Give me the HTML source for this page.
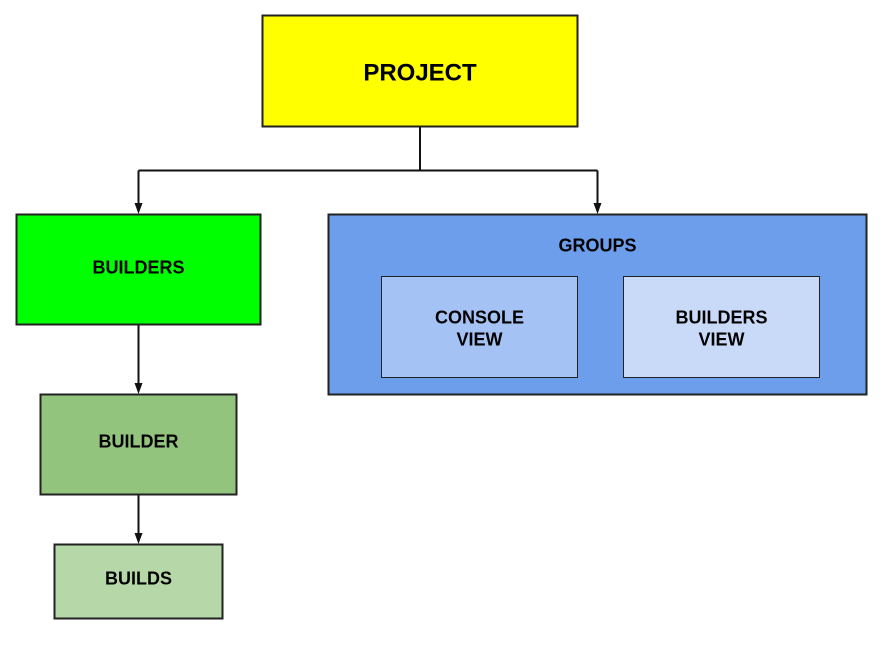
<!DOCTYPE html>
<html><head><meta charset="utf-8"><style>
html,body{margin:0;padding:0;background:#fff;}
svg{display:block;}
text{font-family:"Liberation Sans",Arial,sans-serif;font-weight:bold;fill:#000;text-anchor:middle;}
</style></head><body>
<svg width="890" height="647" viewBox="0 0 890 647" xmlns="http://www.w3.org/2000/svg">
<defs>
<marker id="ah" markerWidth="8" markerHeight="12" refX="4" refY="11" orient="auto-start-reverse" markerUnits="userSpaceOnUse" viewBox="0 0 8 12">
</marker>
</defs>
<!-- connectors -->
<g stroke="#111" stroke-width="2" fill="none">
<path d="M420 126 V170.5 M138.5 170.5 H597.5 M138.5 170.5 V204 M597.5 170.5 V204"/>
<path d="M138.5 324 V384"/>
<path d="M138.5 494 V534"/>
</g>
<g fill="#111">
<polygon points="134.5,203 142.5,203 138.5,214"/>
<polygon points="593.5,203 601.5,203 597.5,214"/>
<polygon points="134.5,383 142.5,383 138.5,394"/>
<polygon points="134.5,533 142.5,533 138.5,544"/>
</g>
<!-- boxes -->
<rect x="262.5" y="15.5" width="315" height="111" fill="#ffff00" stroke="#222" stroke-width="2"/>
<rect x="16.5" y="214.5" width="244" height="110" fill="#00ff00" stroke="#222" stroke-width="2"/>
<rect x="328.5" y="214.5" width="538" height="180" fill="#6d9eeb" stroke="#222" stroke-width="2"/>
<rect x="381.5" y="276.5" width="196" height="101" fill="#a4c2f4" stroke="#222" stroke-width="1"/>
<rect x="623.5" y="276.5" width="196" height="101" fill="#c9daf8" stroke="#222" stroke-width="1"/>
<rect x="40.5" y="394.5" width="196" height="100" fill="#93c47d" stroke="#222" stroke-width="2"/>
<rect x="54.5" y="544.5" width="168" height="74" fill="#b6d7a8" stroke="#222" stroke-width="2"/>
<!-- labels -->
<text x="420" y="80.5" font-size="24">PROJECT</text>
<text x="138.5" y="273.5" font-size="18">BUILDERS</text>
<text x="597.5" y="251.5" font-size="18">GROUPS</text>
<text x="479.5" y="323.5" font-size="18">CONSOLE</text>
<text x="479.5" y="345.5" font-size="18">VIEW</text>
<text x="721.5" y="323.5" font-size="18">BUILDERS</text>
<text x="721.5" y="345.5" font-size="18">VIEW</text>
<text x="138.5" y="447.5" font-size="18">BUILDER</text>
<text x="138.5" y="584.5" font-size="18">BUILDS</text>
</svg>
</body></html>
